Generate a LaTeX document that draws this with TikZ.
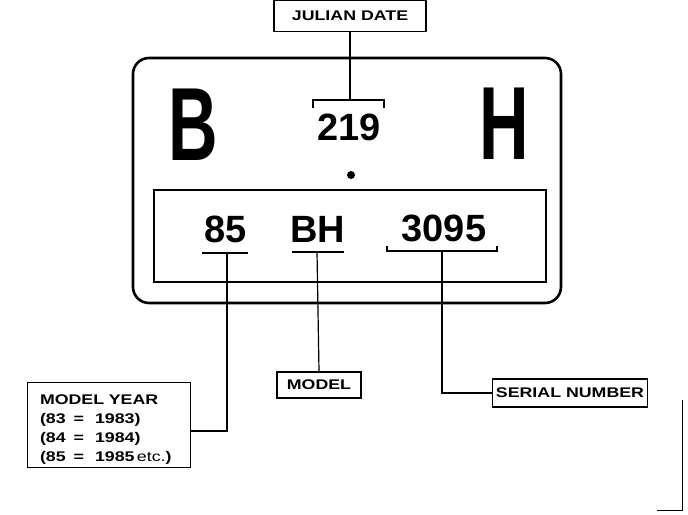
\documentclass[tikz,border=0pt]{standalone}
\usepackage{fontspec}
\setmainfont{Liberation Sans}
\newfontfamily\labelfont[FakeStretch=1.27]{Liberation Sans}
\newfontfamily\platefont[FakeStretch=0.66]{Liberation Sans}
\usetikzlibrary{positioning,calc}
\definecolor{ink}{HTML}{000000}
\newcommand{\eqs}{\hspace{8pt}=\hspace{11pt}}

\begin{document}
\begin{tikzpicture}[x=1pt,y=-1pt,
  lbl/.style={draw=ink,line width=1.4pt,inner sep=0pt,
    font=\labelfont\bfseries\fontsize{14}{19}\selectfont,text=ink,align=center},
  big/.style={font=\platefont\bfseries\fontsize{104}{104}\selectfont,inner sep=0pt,text=ink},
  num/.style={font=\bfseries\fontsize{38}{38}\selectfont,inner sep=0pt,text=ink},
  lead/.style={line width=1.2pt,color=ink},
  uline/.style={line width=1.8pt,color=ink},
]
  \useasboundingbox (0,0) rectangle (688,514);
  \draw[line width=2.6pt,rounded corners=16pt] (133,58) rectangle (561,303);
  \draw[line width=2pt] (154,190) rectangle (546,282);
  \node[big] (lb) at (193,125) {B};
  \node[big] (lh) at (504,124) {H};
  \node[num] (jd) at (349,127) {219};
  \fill[ink] (351,175) circle (4pt);
  \node[num] (yr) at (226,229) {85};
  \node[num] (md) at (318,229) {BH};
  \node[num] (sn) at (444,228) {3095};
  \node[lbl,minimum width=152pt,minimum height=31pt] (jul) at (350,16) {JULIAN DATE};
  \node[lbl,minimum width=84pt,minimum height=26pt] (mdl) at (319,385) {MODEL};
  \node[lbl,minimum width=155pt,minimum height=28pt] (ser) at (570,393) {SERIAL NUMBER};
  \node[lbl,minimum width=163pt,minimum height=85pt,text width=138pt,text height=18pt,align=left]
    (myr) at (109,425) {MODEL YEAR\\(83\eqs1983)\\(84\eqs1984)\\(85\eqs1985\,{\mdseries etc.})};
  \coordinate (jdl) at (313,100); \coordinate (jdr) at (384,100);
  \draw[lead] (jul.south) -- (jul.south |- jdl);
  \draw[uline] ($(jdl)+(0,8)$) -- (jdl) -- (jdr) -- ++(0,8);
  \coordinate (u85) at (227,253); \coordinate (ubh) at (317,252); \coordinate (u309) at (442,251);
  \draw[uline] (202,253) -- (248,253);
  \draw[uline] (292,252) -- (344,252);
  \draw[uline] (387,246) -- (387,251) -- (497,251) -- (497,246);
  \draw[lead] (u85) -- (227,431) -- (myr.east |- 0,431);
  \draw[lead] (ubh) -- (mdl.north);
  \draw[lead] (u309) |- (ser.west);
  \draw[line width=1pt] (657,510) -- (682,510) -- (682,400);
\end{tikzpicture}
\end{document}
